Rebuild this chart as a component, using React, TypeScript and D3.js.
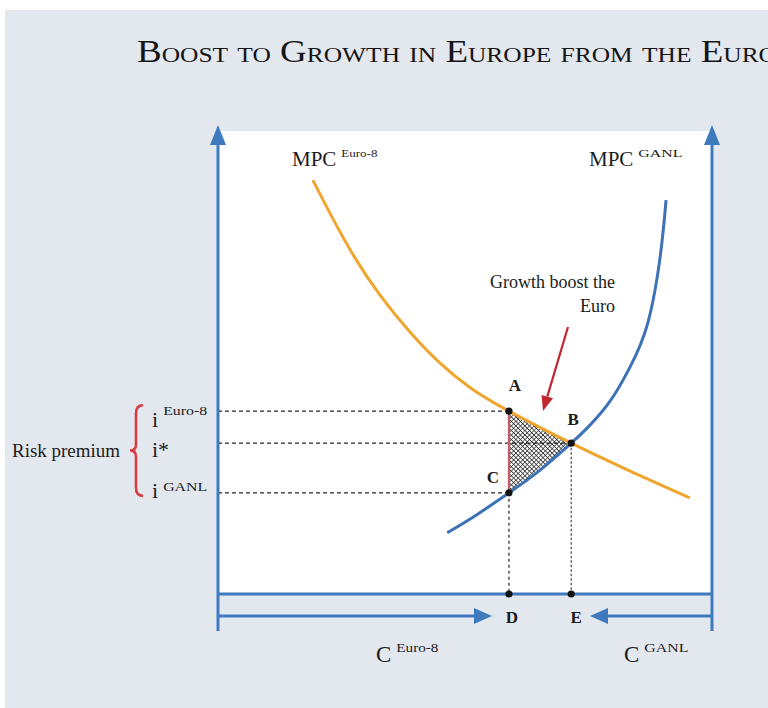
import { useEffect, useRef } from 'react'
import * as d3 from 'd3'

// MPC Euro-8 (consumption share, interest rate)
const EURO8_C = [19.2, 23.3, 27.7, 32.8, 38.9, 44.9, 51, 58.9, 71.5, 83.4, 95.5]
const EURO8_I = [89.2, 80.8, 72.5, 64.4, 56.4, 49.8, 44.5, 39.4, 32.5, 26.5, 20.7]

// MPC GANL
const GANL_C = [46.4, 52.4, 58.9, 65.2, 71.5, 75.3, 79.4, 83.4, 87, 89.5, 90.7]
const GANL_I = [13.2, 17.1, 21.8, 26.7, 32.5, 36.4, 41.6, 48.9, 58.4, 72.6, 84.9]

// marked points
const POINT_NAMES = ['A', 'B', 'C', 'D', 'E']
const POINT_C = [58.9, 71.5, 58.9, 58.9, 71.5]
const POINT_I = [39.4, 32.5, 21.8, 0, 0]

// interest rate levels on the left axis
const RATE_LEVELS = [39.4, 32.5, 21.8]
const RATE_MAIN = ['i', 'i*', 'i']
const RATE_SUP = ['Euro-8', '', 'GANL']

const TITLE = 'Boost to Growth in Europe from the Euro'
const FONT = "'Liberation Serif', 'Times New Roman', serif"

const AXIS_BLUE = '#3f7abf'
const CURVE_BLUE = '#3d72b6'
const ORANGE = '#eea62f'

type P = [number, number]

export default function App() {
  const svgRef = useRef<SVGSVGElement>(null)

  useEffect(() => {
    const svg = d3.select(svgRef.current)
    svg.selectAll('*').remove()

    const x = d3.scaleLinear([0, 100], [218, 712])
    const y = d3.scaleLinear([0, 100], [594, 130])

    const euro8: P[] = EURO8_C.map((c, k) => [c, EURO8_I[k]])
    const ganl: P[] = GANL_C.map((c, k) => [c, GANL_I[k]])
    const line = d3.line<P>().x(d => x(d[0])).y(d => y(d[1])).curve(d3.curveNatural)

    const defs = svg.append('defs')
    defs.append('pattern')
      .attr('id', 'hatch').attr('patternUnits', 'userSpaceOnUse')
      .attr('width', 3.2).attr('height', 3.2)
      .attr('patternTransform', 'rotate(45)')
      .call(p => p.append('rect').attr('width', 3.2).attr('height', 3.2).attr('fill', '#fff'))
      .call(p => p.append('path').attr('d', 'M0,0 H3.2 M0,0 V3.2')
        .attr('stroke', '#2e2e2e').attr('stroke-width', 1.4))

    // ── background ──────────────────────────────────────────────────────────
    svg.append('rect').attr('width', 768).attr('height', 708).attr('fill', '#fff')
    svg.append('rect').attr('x', 5).attr('y', 10).attr('width', 763).attr('height', 698).attr('fill', '#e3e7ee')
    svg.append('rect')
      .attr('x', x(0)).attr('y', 131).attr('width', x(100) - x(0)).attr('height', y(0) - 131)
      .attr('fill', '#fff')

    svg.append('text')
      .attr('x', 137).attr('y', 62)
      .attr('font-family', FONT).attr('font-size', 32).attr('font-variant', 'small-caps')
      .attr('textLength', 640).attr('lengthAdjust', 'spacingAndGlyphs')
      .attr('fill', '#151515')
      .text(TITLE)

    // ── hatched gain triangle ────────────────────────────────────────────────
    const [c0, c1] = [POINT_C[0], POINT_C[1]]
    defs.append('clipPath').attr('id', 'clip-x')
      .append('rect').attr('x', x(c0)).attr('y', 0).attr('width', x(c1) - x(c0)).attr('height', 708)
    defs.append('clipPath').attr('id', 'clip-below-euro8')
      .append('path').attr('d', line(euro8) + `L${x(100)},${y(0)}L${x(0)},${y(0)}Z`)
    svg.append('g').attr('clip-path', 'url(#clip-x)')
      .append('g').attr('clip-path', 'url(#clip-below-euro8)')
      .append('path')
      .attr('d', line(ganl) + `L${x(0)},${y(100)}L${x(0)},${y(ganl[0][1])}Z`)
      .attr('fill', 'url(#hatch)')

    // ── guide lines ──────────────────────────────────────────────────────────
    RATE_LEVELS.forEach((lvl, k) => {
      svg.append('line')
        .attr('x1', x(0)).attr('x2', x(POINT_C[k])).attr('y1', y(lvl)).attr('y2', y(lvl))
        .attr('stroke', '#222').attr('stroke-width', 1.2).attr('stroke-dasharray', '4,3')
    })
    svg.append('line')
      .attr('x1', x(POINT_C[2])).attr('x2', x(POINT_C[3])).attr('y1', y(POINT_I[2])).attr('y2', y(0))
      .attr('stroke', '#222').attr('stroke-width', 1.2).attr('stroke-dasharray', '3,3')
    svg.append('line')
      .attr('x1', x(POINT_C[1])).attr('x2', x(POINT_C[4])).attr('y1', y(POINT_I[1])).attr('y2', y(0))
      .attr('stroke', '#444').attr('stroke-width', 1.2).attr('stroke-dasharray', '2.5,2')

    // red segment A–C
    svg.append('line')
      .attr('x1', x(POINT_C[0])).attr('x2', x(POINT_C[2])).attr('y1', y(POINT_I[0])).attr('y2', y(POINT_I[2]))
      .attr('stroke', '#c85a63').attr('stroke-width', 2.2)

    // ── curves ───────────────────────────────────────────────────────────────
    svg.append('path').attr('d', line(euro8)).attr('fill', 'none')
      .attr('stroke', ORANGE).attr('stroke-width', 3)
    svg.append('path').attr('d', line(ganl)).attr('fill', 'none')
      .attr('stroke', CURVE_BLUE).attr('stroke-width', 3)

    // ── axes ─────────────────────────────────────────────────────────────────
    ;[x(0), x(100)].forEach(ax => {
      svg.append('line').attr('x1', ax).attr('x2', ax).attr('y1', 142).attr('y2', 631)
        .attr('stroke', AXIS_BLUE).attr('stroke-width', 3)
      svg.append('path').attr('d', `M${ax},125L${ax + 8},145L${ax - 8},145Z`).attr('fill', AXIS_BLUE)
    })
    svg.append('line').attr('x1', x(0)).attr('x2', x(100)).attr('y1', y(0)).attr('y2', y(0))
      .attr('stroke', AXIS_BLUE).attr('stroke-width', 3)

    const ay = 616
    svg.append('line').attr('x1', x(0)).attr('x2', 476).attr('y1', ay).attr('y2', ay)
      .attr('stroke', AXIS_BLUE).attr('stroke-width', 3)
    svg.append('path').attr('d', `M492,${ay}L474,${ay - 8}L474,${ay + 8}Z`).attr('fill', AXIS_BLUE)
    svg.append('line').attr('x1', x(100)).attr('x2', 606).attr('y1', ay).attr('y2', ay)
      .attr('stroke', AXIS_BLUE).attr('stroke-width', 3)
    svg.append('path').attr('d', `M590,${ay}L608,${ay - 8}L608,${ay + 8}Z`).attr('fill', AXIS_BLUE)

    // ── points ───────────────────────────────────────────────────────────────
    POINT_NAMES.forEach((_, k) => {
      svg.append('circle').attr('cx', x(POINT_C[k])).attr('cy', y(POINT_I[k])).attr('r', 3.6).attr('fill', '#111')
    })
    const labelOffsets: P[] = [[6, -20], [2, -18], [-16, -10], [3, 29], [5, 29]]
    POINT_NAMES.forEach((name, k) => {
      svg.append('text')
        .attr('x', x(POINT_C[k]) + labelOffsets[k][0]).attr('y', y(POINT_I[k]) + labelOffsets[k][1])
        .attr('text-anchor', 'middle')
        .attr('font-family', FONT).attr('font-size', 17).attr('font-weight', 'bold').attr('fill', '#1c1c1c')
        .text(name)
    })

    // ── curve labels ─────────────────────────────────────────────────────────
    const labelWithSup = (lx: number, ly: number, main: string, sup: string, size: number, supSize: number, supDy: number, gap: number, supLen?: number) => {
      const t = svg.append('text')
        .attr('x', lx).attr('y', ly)
        .attr('font-family', FONT).attr('font-size', size).attr('fill', '#1c1c1c')
        .text(main)
      const w = (t.node() as SVGTextElement).getComputedTextLength()
      if (sup) {
        const s = svg.append('text')
          .attr('x', lx + w + gap).attr('y', ly - supDy)
          .attr('font-family', FONT).attr('font-size', supSize).attr('fill', '#1c1c1c')
          .text(sup)
        if (supLen) s.attr('textLength', supLen).attr('lengthAdjust', 'spacingAndGlyphs')
      }
    }
    labelWithSup(292, 166, 'MPC', 'Euro-8', 21, 11, 9, 5, 36)
    labelWithSup(589, 166, 'MPC', 'GANL', 21, 11, 9, 5, 44)
    labelWithSup(376, 662, 'C', 'Euro-8', 23, 12, 10, 5, 42)
    labelWithSup(624, 662, 'C', 'GANL', 23, 12, 10, 5, 44)

    // rate labels
    RATE_LEVELS.forEach((lvl, k) => {
      const ly = k === 1 ? y(lvl) + 14 : k === 0 ? y(lvl) + 16 : y(lvl) + 5
      labelWithSup(152, ly, RATE_MAIN[k], RATE_SUP[k], 22, 12, k === 0 ? 12 : 7, 5, 44)
    })

    // risk premium brace
    const bTop = y(RATE_LEVELS[0]) - 6
    const bBot = y(RATE_LEVELS[2]) + 3
    const bMid = (bTop + bBot) / 2
    svg.append('path')
      .attr('d', `M143,${bTop} Q136,${bTop} 136,${bTop + 8} L136,${bMid - 6} Q136,${bMid} 130,${bMid} Q136,${bMid} 136,${bMid + 6} L136,${bBot - 8} Q136,${bBot} 143,${bBot}`)
      .attr('fill', 'none').attr('stroke', '#d63c44').attr('stroke-width', 2.6)
    svg.append('text')
      .attr('x', 12).attr('y', bMid + 6)
      .attr('font-family', FONT).attr('font-size', 18).attr('fill', '#1c1c1c')
      .attr('textLength', 108).attr('lengthAdjust', 'spacingAndGlyphs')
      .text('Risk premium')

    // ── annotation ───────────────────────────────────────────────────────────
    svg.append('text')
      .attr('x', 615).attr('y', 288).attr('text-anchor', 'end')
      .attr('font-family', FONT).attr('font-size', 18).attr('fill', '#1c1c1c')
      .text('Growth boost the')
    svg.append('text')
      .attr('x', 615).attr('y', 312).attr('text-anchor', 'end')
      .attr('font-family', FONT).attr('font-size', 18).attr('fill', '#1c1c1c')
      .text('Euro')

    const [sx, sy, ex, ey] = [568, 327, 543, 411]
    const ang = Math.atan2(ey - sy, ex - sx)
    const hl = 15, hw = 6
    const bx = ex - hl * Math.cos(ang), by = ey - hl * Math.sin(ang)
    svg.append('line').attr('x1', sx).attr('y1', sy).attr('x2', bx).attr('y2', by)
      .attr('stroke', '#c2262e').attr('stroke-width', 2.2)
    svg.append('path')
      .attr('d', `M${ex},${ey}L${bx + hw * Math.sin(ang)},${by - hw * Math.cos(ang)}L${bx - hw * Math.sin(ang)},${by + hw * Math.cos(ang)}Z`)
      .attr('fill', '#c2262e')
  }, [])

  return (
    <svg ref={svgRef} width={768} height={708}
      style={{ position: 'fixed', left: 0, top: 0, display: 'block' }} />
  )
}
